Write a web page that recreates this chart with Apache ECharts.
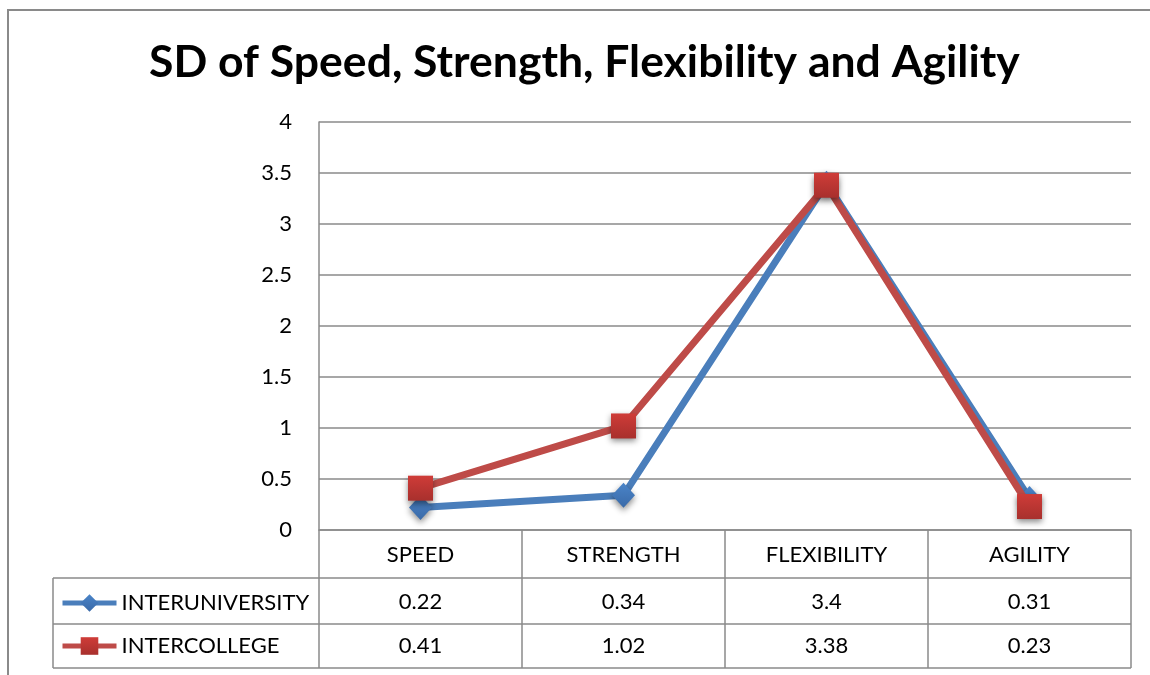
<!DOCTYPE html>
<html>
<head>
<meta charset="utf-8">
<script src="https://cdn.jsdelivr.net/npm/echarts@6/dist/echarts.min.js"></script>
<style>html,body{margin:0;padding:0;background:#fff}#c{width:1150px;height:675px}</style>
</head>
<body>
<div id="c"></div>
<script>
const title = 'SD of Speed, Strength, Flexibility and Agility';
const categories = ['SPEED', 'STRENGTH', 'FLEXIBILITY', 'AGILITY'];
const seriesNames = ['INTERUNIVERSITY', 'INTERCOLLEGE'];
const interuniversity = [0.22, 0.34, 3.4, 0.31];
const intercollege = [0.41, 1.02, 3.38, 0.23];
const yTicks = {min: 0, max: 4, interval: 0.5};

const FONT = 'Lato';
const FS = 22;
const GRAY = '#8a8a8a';
const chart = echarts.init(document.getElementById('c'), null, {renderer: 'canvas'});

const redGrad = new echarts.graphic.LinearGradient(0, 0, 0, 1, [
  {offset: 0, color: '#cf3c38'}, {offset: 1, color: '#a8302d'}]);
const blueGrad = new echarts.graphic.LinearGradient(0, 0, 0, 1, [
  {offset: 0, color: '#4a84c8'}, {offset: 1, color: '#3a6aa8'}]);

const legendBase = {orient: 'horizontal', itemWidth: 54, itemHeight: 22, selectedMode: false,
  textStyle: {fontFamily: FONT, fontSize: FS, color: '#000'}, lineStyle: {width: 5}};

const option = {
  animation: false,
  backgroundColor: '#fff',
  textStyle: {fontFamily: FONT},
  title: {
    text: title, left: 144, top: 35,
    textStyle: {fontFamily: FONT, fontWeight: 'bold', fontSize: 44.5, color: '#000'}
  },
  grid: {left: 319, right: 19, top: 122, bottom: 145, containLabel: false},
  legend: [
    Object.assign({data: [seriesNames[0]], left: 55, top: 587}, legendBase),
    Object.assign({data: [seriesNames[1]], left: 55, top: 630}, legendBase)
  ],
  xAxis: {
    type: 'category', data: categories, boundaryGap: true,
    axisLine: {show: true, lineStyle: {color: GRAY, width: 1.5}},
    axisTick: {show: true, length: 138, lineStyle: {color: GRAY, width: 1.5}},
    axisLabel: {fontFamily: FONT, fontSize: FS, color: '#000', margin: 14}
  },
  yAxis: {
    type: 'value', min: yTicks.min, max: yTicks.max, interval: yTicks.interval,
    axisLine: {show: true, lineStyle: {color: GRAY, width: 1.5}},
    axisTick: {show: false},
    axisLabel: {fontFamily: FONT, fontSize: FS, color: '#000', margin: 27},
    splitLine: {show: true, lineStyle: {color: GRAY, width: 1.5}}
  },
  series: [
    {
      name: seriesNames[0], type: 'line', data: interuniversity,
      symbol: 'diamond', symbolSize: [23, 25],
      lineStyle: {color: '#4a7ebb', width: 7},
      itemStyle: {color: blueGrad, borderWidth: 0, shadowBlur: 6, shadowColor: 'rgba(0,0,0,0.45)', shadowOffsetY: 3},
      color: '#4a7ebb', z: 2
    },
    {
      name: seriesNames[1], type: 'line', data: intercollege,
      symbol: 'rect', symbolSize: 25,
      lineStyle: {color: '#be4b48', width: 7},
      itemStyle: {color: redGrad, borderWidth: 0, shadowBlur: 6, shadowColor: 'rgba(0,0,0,0.45)', shadowOffsetY: 3},
      color: '#be4b48', z: 3
    }
  ]
};
chart.setOption(option);

// data table (cell values from the data arrays, positioned via the category axis)
const rowY = [602, 646];
const rows = [interuniversity, intercollege];
const graphics = [];
graphics.push({type: 'rect', shape: {x: 8, y: 10, width: 1300, height: 800},
  style: {fill: null, stroke: '#8a8a8a', lineWidth: 2}, silent: true, z: 0});
const tLeft = 53, tRight = 1131;
[578, 624, 668].forEach(y => graphics.push({type: 'line', shape: {x1: tLeft, y1: y, x2: tRight, y2: y},
  style: {stroke: GRAY, lineWidth: 1.5}, silent: true}));
graphics.push({type: 'line', shape: {x1: tLeft, y1: 578, x2: tLeft, y2: 668}, style: {stroke: GRAY, lineWidth: 1.5}, silent: true});
rows.forEach((vals, r) => {
  vals.forEach((v, i) => {
    const x = chart.convertToPixel({xAxisIndex: 0}, categories[i]);
    graphics.push({type: 'text', x: x, y: rowY[r], silent: true,
      style: {text: String(v), fontFamily: FONT, fontSize: FS, fill: '#000', align: 'center', verticalAlign: 'middle'}});
  });
});
chart.setOption({graphic: graphics});
</script>
</body>
</html>
